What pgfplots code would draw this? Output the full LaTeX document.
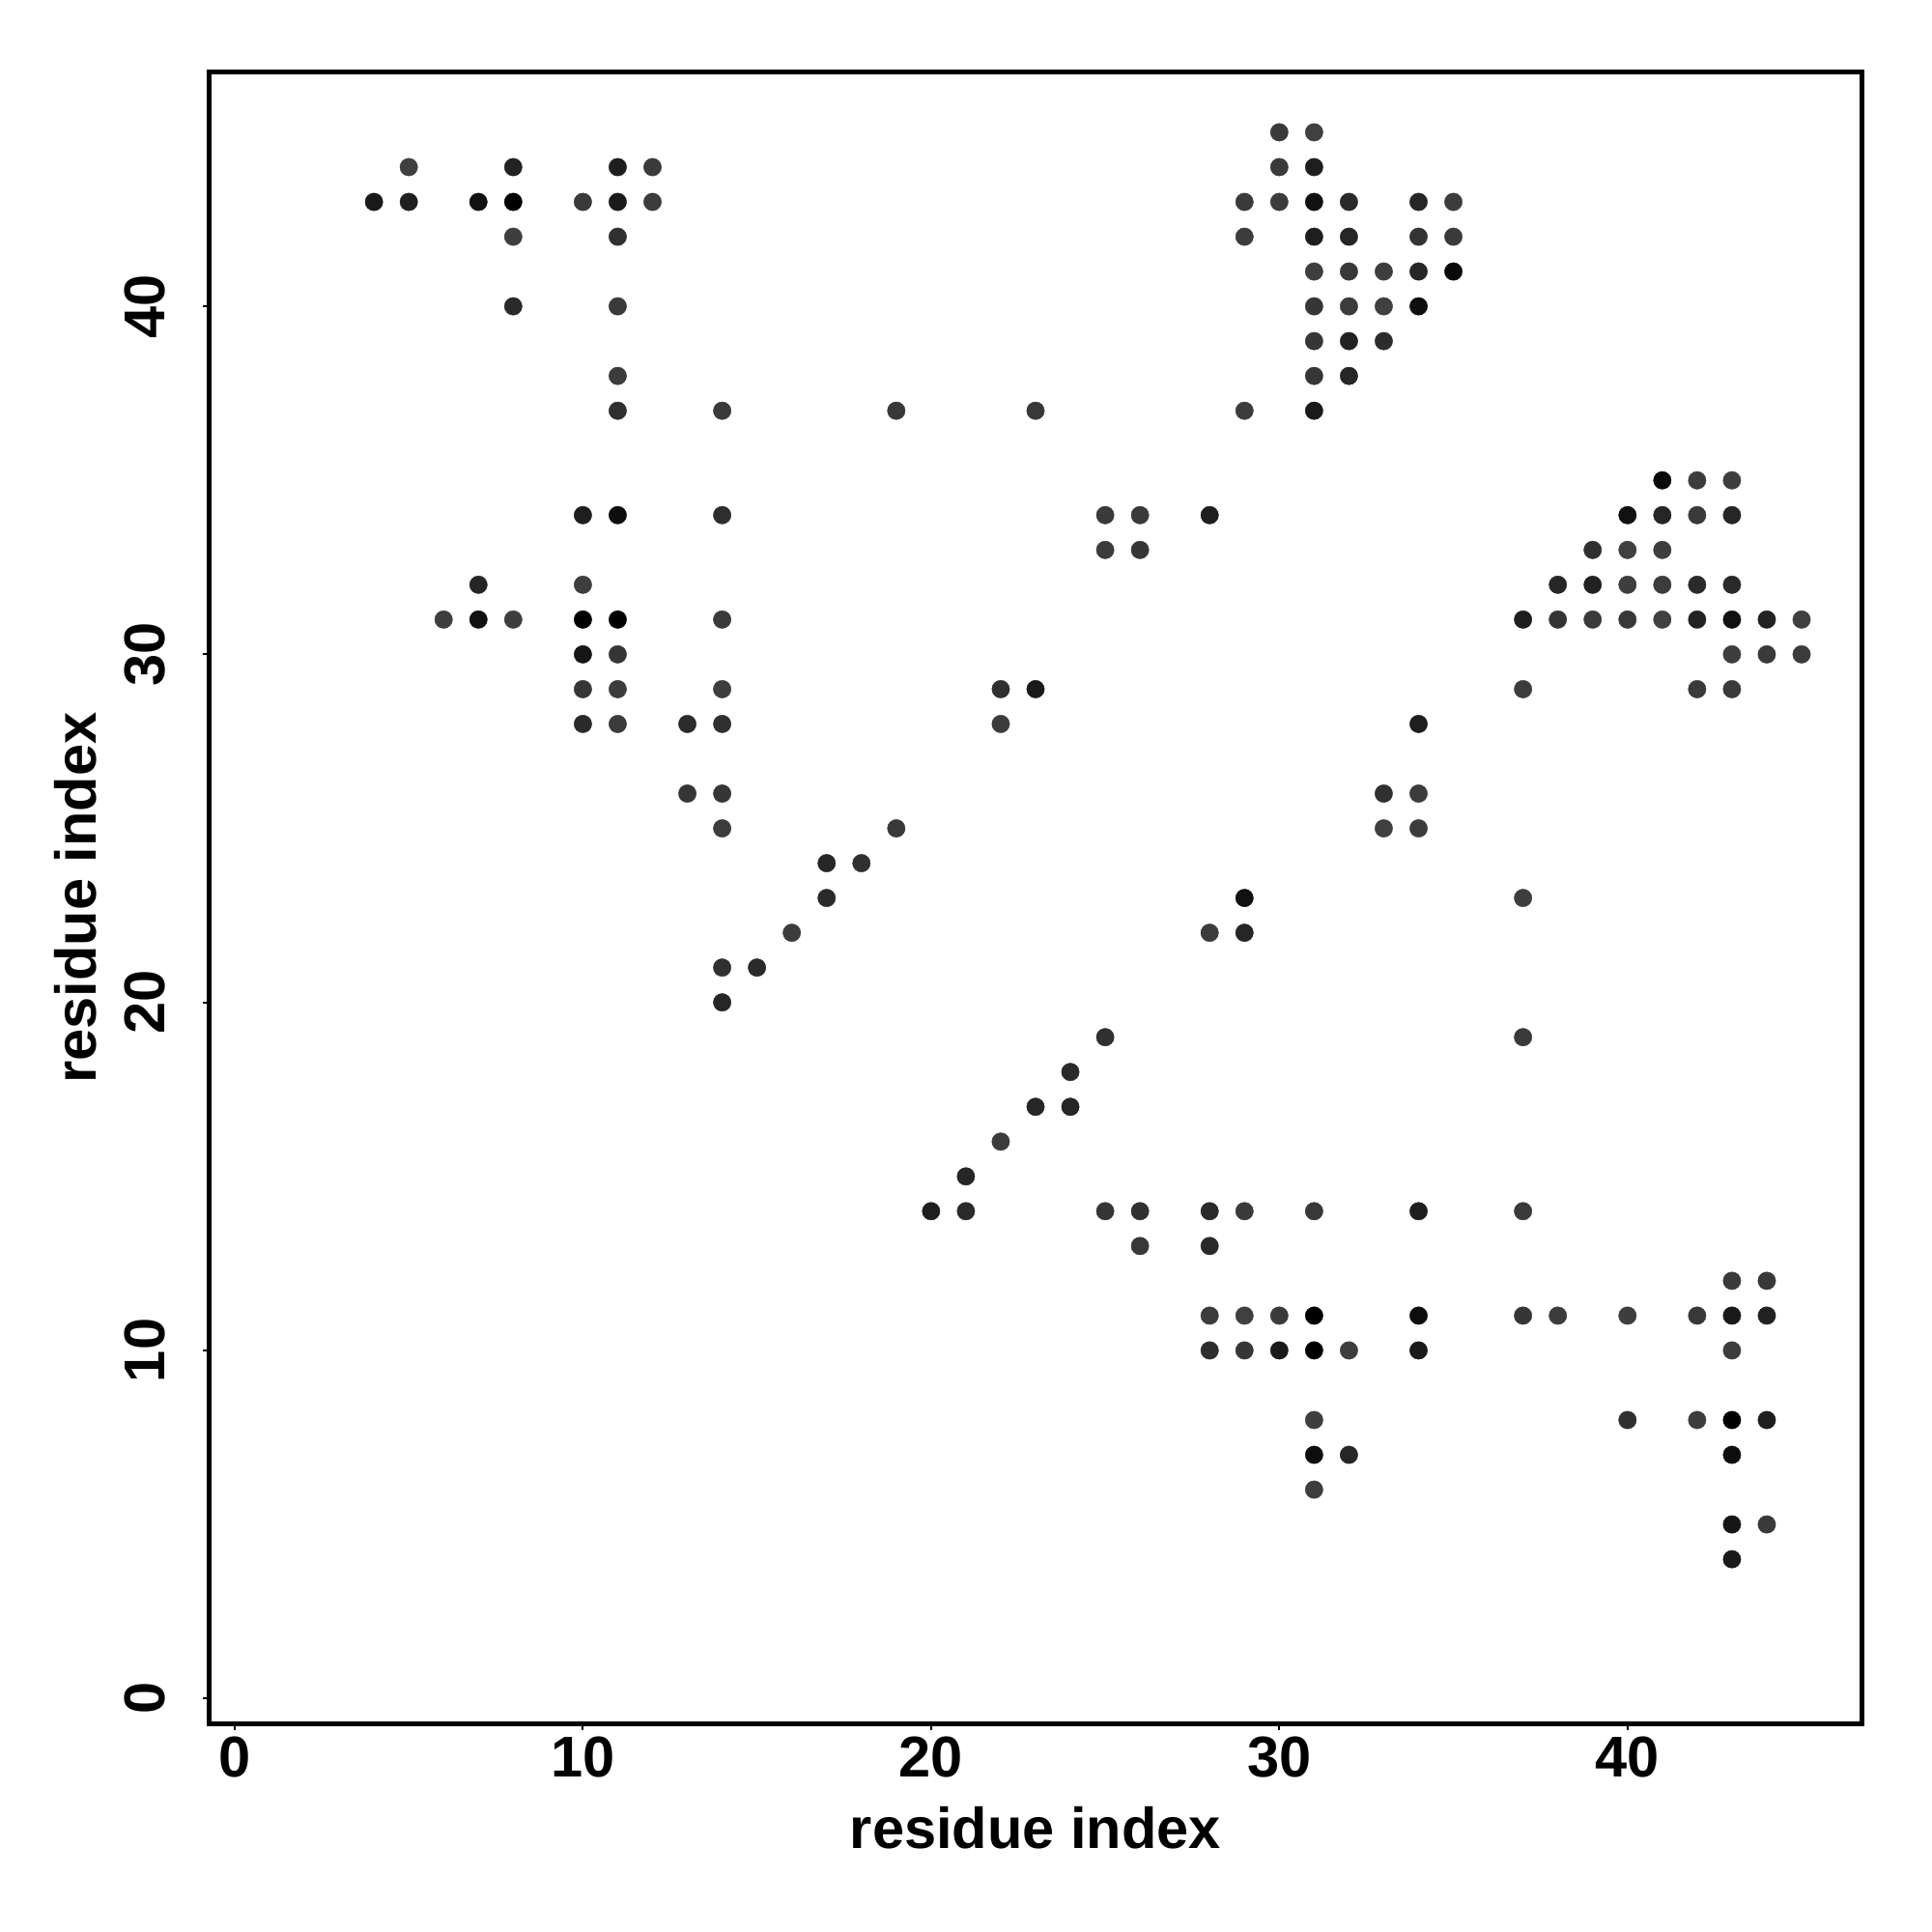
\documentclass[border=0pt]{standalone}
\usepackage{fontspec}
\setmainfont{Liberation Sans}
\usepackage{pgfplots}
\pgfplotsset{compat=1.18}
\begin{document}
\begin{tikzpicture}
\useasboundingbox (-52.08pt,-51.8pt) rectangle (427.92pt,428.2pt);
\begin{axis}[
  scale only axis, width=410.4pt, height=410.2pt,
  xmin=-0.72, xmax=46.72, ymin=-0.72, ymax=46.72,
  axis line style={line width=1.2pt},
  tick align=outside, tick pos=left,
  major tick length=1.7pt,
  tick style={line width=0.5pt, black},
  xtick={0,10,20,30,40}, ytick={0,10,20,30,40},
  /pgf/number format/assume math mode=true,
  tick label style={font=\fontsize{14.3}{17}\selectfont\bfseries},
  xticklabel style={anchor=north, inner sep=0pt, yshift=-1.4pt},
  yticklabel style={xshift=-9.2pt, rotate=90, anchor=south, inner sep=0pt},
  xlabel={residue index}, ylabel={residue index},
  every axis x label/.style={at={(axis description cs:0.5,0)}, anchor=north, yshift=-20.5pt, inner sep=0pt, font=\fontsize{14.3}{17}\selectfont\bfseries},
  every axis y label/.style={at={(axis description cs:0,0.5)}, xshift=-27.8pt, rotate=90, anchor=south, inner sep=0pt, font=\fontsize{14.3}{17}\selectfont\bfseries},
  colormap={bw}{gray(0cm)=(0); gray(1cm)=(1)},
  point meta min=0, point meta max=255,
]
\addplot[scatter, only marks, mark=*, mark size=2.2pt, scatter src=explicit,
  scatter/use mapped color={draw=mapped color, fill=mapped color}, mark options={line width=0.1pt}]
  table[meta=g] {
x y g
30 45 58
31 45 64
5 44 64
8 44 34
11 44 30
12 44 58
30 44 58
31 44 30
4 43 26
5 43 32
7 43 17
8 43 0
10 43 58
11 43 26
12 43 60
29 43 58
30 43 60
31 43 17
32 43 42
34 43 38
35 43 60
8 42 62
11 42 48
29 42 60
31 42 30
32 42 38
34 42 52
35 42 58
31 41 62
32 41 56
33 41 62
34 41 38
35 41 10
8 40 42
11 40 58
31 40 54
32 40 60
33 40 64
34 40 14
31 39 54
32 39 34
33 39 44
11 38 60
31 38 54
32 38 38
11 37 48
14 37 58
19 37 56
23 37 56
29 37 60
31 37 26
41 35 10
42 35 60
43 35 62
10 34 30
11 34 14
14 34 46
25 34 58
26 34 58
28 34 30
40 34 17
41 34 38
42 34 58
43 34 38
25 33 60
26 33 54
39 33 48
40 33 64
41 33 62
7 32 38
10 32 62
38 32 38
39 32 34
40 32 62
41 32 60
42 32 42
43 32 42
6 31 62
7 31 17
8 31 62
10 31 0
11 31 0
14 31 58
37 31 30
38 31 52
39 31 58
40 31 56
41 31 64
42 31 34
43 31 17
44 31 34
45 31 64
10 30 22
11 30 54
43 30 62
44 30 58
45 30 60
10 29 54
11 29 60
14 29 62
22 29 48
23 29 26
37 29 60
42 29 58
43 29 58
10 28 42
11 28 60
13 28 44
14 28 48
22 28 60
34 28 30
13 26 54
14 26 54
33 26 48
34 26 60
14 25 60
19 25 56
33 25 64
34 25 60
17 24 38
18 24 48
17 23 42
29 23 17
37 23 62
16 22 60
28 22 60
29 22 38
14 21 48
15 21 42
14 20 38
25 19 48
37 19 58
24 18 42
23 17 38
24 17 38
22 16 60
21 15 38
20 14 30
21 14 42
25 14 54
26 14 48
28 14 42
29 14 58
31 14 56
34 14 30
37 14 58
26 13 56
28 13 42
43 12 58
44 12 56
28 11 60
29 11 64
30 11 58
31 11 0
34 11 14
37 11 54
38 11 60
40 11 62
42 11 56
43 11 26
44 11 34
28 10 46
29 10 54
30 10 26
31 10 0
32 10 62
34 10 26
43 10 60
31 8 62
40 8 48
42 8 62
43 8 0
44 8 30
31 7 14
32 7 38
43 7 14
31 6 62
43 5 22
44 5 58
43 4 26
};
\end{axis}
\end{tikzpicture}
\end{document}
